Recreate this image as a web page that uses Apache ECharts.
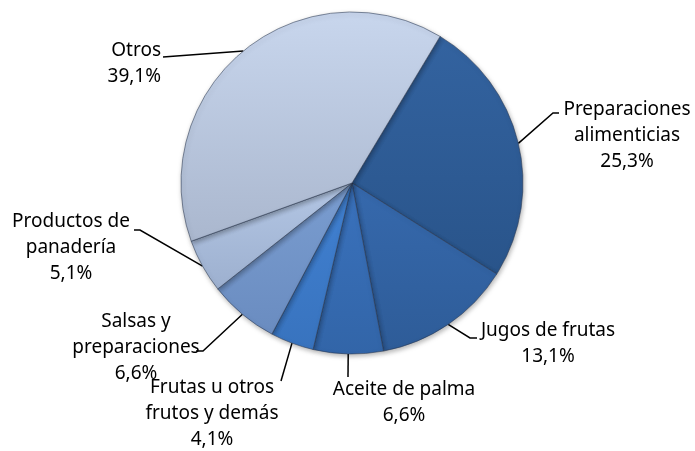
<!DOCTYPE html>
<html>
<head>
<meta charset="utf-8">
<script src="https://cdn.jsdelivr.net/npm/echarts@6/dist/echarts.min.js"></script>
<style>
    html, body { margin: 0; padding: 0; background: #fff; }
    #chart { width: 695px; height: 451px; }
</style>
</head>
<body>
<div id="chart"></div>
<script>
// datos (orden horario desde Preparaciones)
var categorias = ['Preparaciones\nalimenticias', 'Jugos de frutas', 'Aceite de palma',
    'Frutas u otros\nfrutos y demás', 'Salsas y\npreparaciones', 'Productos de\npanadería', 'Otros'];
var valores = [25.3, 13.1, 6.6, 4.1, 6.6, 5.1, 39.1];
var coloresArriba = ['#3363A0', '#3669AD', '#3A72BD', '#4181D2', '#7A9DD0', '#B3C6E4', '#C8D6ED'];
var coloresAbajo = ['#29548A', '#2E5C98', '#3265A8', '#3873BE', '#6A8CC0', '#9DB0CF', '#AAB7CE'];

// posicion de cada etiqueta y quiebre de su linea
var etiquetas = [
    { x: 627, y: 136, align: 'center', codo: [553, 113], fin: [559, 113] },
    { x: 548, y: 344, align: 'center', codo: [470, 338], fin: [477, 338] },
    { x: 404, y: 403, align: 'center', codo: [348, 377], fin: [348, 377] },
    { x: 212, y: 414, align: 'center', codo: [281, 381], fin: [281, 381] },
    { x: 136, y: 348, align: 'center', codo: [203, 351], fin: [196, 351] },
    { x: 71, y: 248, align: 'center', codo: [140, 230], fin: [134, 230] },
    { x: 161, y: 64, align: 'right', codo: [163, 57], fin: [163, 57] }
];

function init_chart() {
    var myChart = echarts.init(document.getElementById('chart'));

    var datos = [];
    for (var i = 0; i < valores.length; i++) {
        datos.push({
            name: categorias[i],
            value: valores[i],
            itemStyle: {
                color: new echarts.graphic.LinearGradient(0, 0, 0, 1, [
                    { offset: 0, color: coloresArriba[i] },
                    { offset: 1, color: coloresAbajo[i] }
                ])
            }
        });
    }

    var option = {
        animation: false,
        series: [{
            type: 'pie',
            center: [352, 183],
            radius: 171,
            startAngle: 59,
            clockwise: true,
            data: datos,
            itemStyle: {
                borderColor: 'rgba(40,55,80,0.55)',
                borderWidth: 1,
                shadowBlur: 5,
                shadowColor: 'rgba(0,0,0,0.3)',
                shadowOffsetX: 1,
                shadowOffsetY: 2
            },
            label: {
                show: true,
                position: 'outside',
                fontFamily: 'Noto Sans',
                fontSize: 19,
                lineHeight: 26,
                color: '#000',
                formatter: function (p) {
                    return p.name + '\n' + p.value.toFixed(1).replace('.', ',') + '%';
                }
            },
            labelLine: {
                show: true,
                length: 20,
                length2: 10,
                lineStyle: { color: '#000', width: 1.5 }
            },
            labelLayout: function (params) {
                var e = etiquetas[params.dataIndex];
                var inicio = params.labelLinePoints ? params.labelLinePoints[0] : e.codo;
                return {
                    x: e.x,
                    y: e.y,
                    align: e.align,
                    verticalAlign: 'middle',
                    labelLinePoints: [inicio, e.codo, e.fin]
                };
            },
            emphasis: { disabled: true }
        }]
    };
    myChart.setOption(option);
}

init_chart();
</script>
</body>
</html>
